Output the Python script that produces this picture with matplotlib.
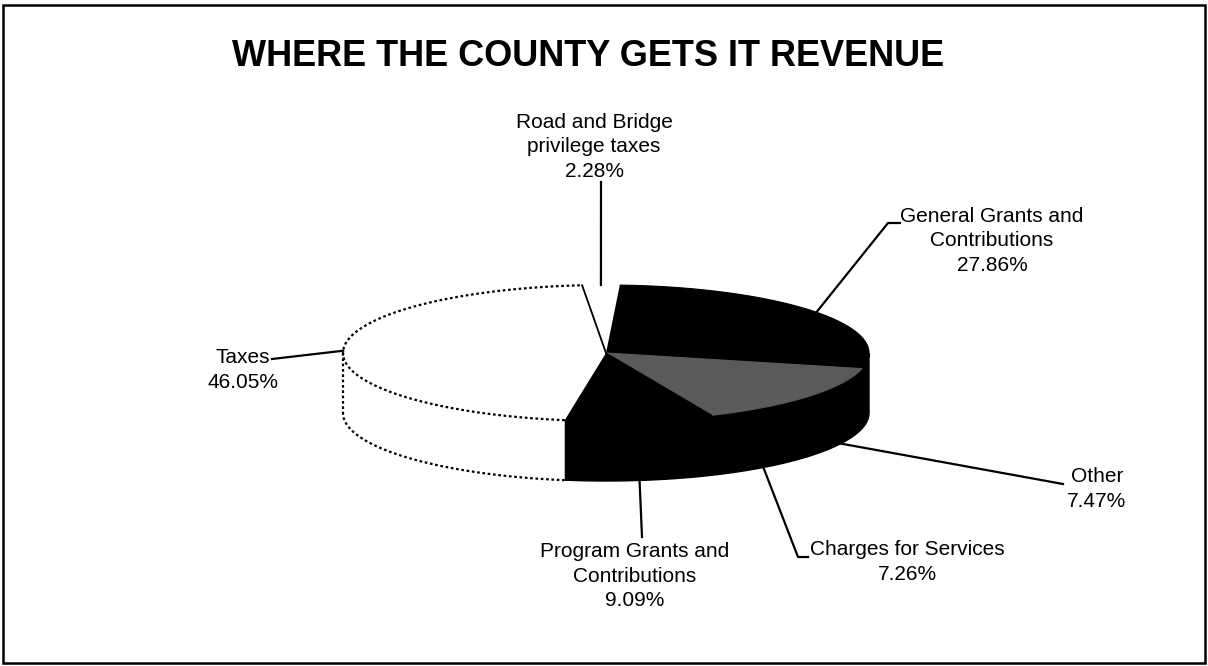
import numpy as np
import matplotlib
matplotlib.use('Agg')
import matplotlib.pyplot as plt
from matplotlib.patches import Polygon, Rectangle

plt.rcParams['font.family'] = ['Liberation Sans', 'DejaVu Sans']

# data, in drawing order (clockwise from 12 o'clock)
labels = ['General Grants and\nContributions', 'Other', 'Charges for Services',
          'Program Grants and\nContributions', 'Taxes',
          'Road and Bridge\nprivilege taxes']
shares = [27.86, 7.47, 7.26, 9.09, 46.05, 2.28]
top_colors = ['#000000', '#5a5a5a', '#5a5a5a', '#000000', '#ffffff', '#ffffff']
side_colors = ['#000000', '#000000', '#000000', '#000000', '#ffffff', '#ffffff']

# layout (pixels of the 1208x666 picture)
cx, cy, rx, ry, depth = 606, 353, 263, 68, 60
start = 3.0
label_xy = [(992, 241), (1097, 489), (907, 562), (635, 576), (243, 370), (594, 147)]
leader_pts = [[(888, 223), (900, 223)], [(1063, 484)], [(798, 557), (808, 557)],
              [(642, 537)], [(272, 359)], [(601, 182)]]


def rim(theta, dz=0.0):
    t = np.radians(theta)
    return cx + rx * np.sin(t), cy - ry * np.cos(t) + dz


fig = plt.figure(figsize=(12.08, 6.66), dpi=100)
ax = fig.add_axes([0, 0, 1, 1])
ax.set_xlim(0, 1208)
ax.set_ylim(666, 0)
ax.axis('off')

total = sum(shares)
edges = start + np.concatenate([[0], np.cumsum(shares)]) / total * 360

# side walls (front half only)
for i in range(len(shares)):
    a, b = max(edges[i], 90), min(edges[i + 1], 270)
    if b <= a:
        continue
    th = np.linspace(a, b, 80)
    xt, yt = rim(th)
    xb, yb = rim(th[::-1], depth)
    pts = np.column_stack([np.concatenate([xt, xb]), np.concatenate([yt, yb])])
    ec = 'none' if side_colors[i] == '#ffffff' else side_colors[i]
    ax.add_patch(Polygon(pts, closed=True, facecolor=side_colors[i],
                         edgecolor=ec, lw=1, zorder=1))

# top faces
for i in range(len(shares)):
    th = np.linspace(edges[i], edges[i + 1], 120)
    xs, ys = rim(th)
    pts = np.column_stack([np.concatenate([[cx], xs]), np.concatenate([[cy], ys])])
    ec = 'none' if top_colors[i] == '#ffffff' else top_colors[i]
    ax.add_patch(Polygon(pts, closed=True, facecolor=top_colors[i],
                         edgecolor=ec, lw=0.8, zorder=2))

# dotted outline of the white Taxes slice
ti = labels.index('Taxes')
dots = (0, (1.2, 1.2))
th = np.linspace(edges[ti], edges[ti + 1], 200)
xs, ys = rim(th)
ax.plot(xs, ys, color='black', lw=1.6, ls=dots, zorder=3)
th = np.linspace(edges[ti], 270, 120)
xs, ys = rim(th, depth)
ax.plot(xs, ys, color='black', lw=1.6, ls=dots, zorder=3)
x0, y0 = rim(270)
ax.plot([x0, x0], [y0, y0 + depth], color='black', lw=1.6, ls=dots, zorder=3)
x1, y1 = rim(edges[ti + 1])
ax.plot([cx, x1], [cy, y1], color='black', lw=1.3, zorder=3)

# labels and leader lines
for i, lab in enumerate(labels):
    mid = (edges[i] + edges[i + 1]) / 2
    dz = depth if np.cos(np.radians(mid)) < -0.1 else 0
    ax0, ay0 = rim(mid, dz)
    xs = [ax0] + [p[0] for p in leader_pts[i]]
    ys = [ay0] + [p[1] for p in leader_pts[i]]
    ax.plot(xs, ys, color='black', lw=1.6, zorder=4)
    ax.text(label_xy[i][0], label_xy[i][1], f'{lab}\n{shares[i]:.2f}%',
            ha='center', va='center', fontsize=15, linespacing=1.35)

ax.text(588, 57, 'WHERE THE COUNTY GETS IT REVENUE', ha='center', va='center',
        fontsize=26, fontweight='bold')

ax.add_patch(Rectangle((3, 5), 1202, 658, fill=False, edgecolor='black', lw=1.8))

fig.savefig('out.png', dpi=100)
